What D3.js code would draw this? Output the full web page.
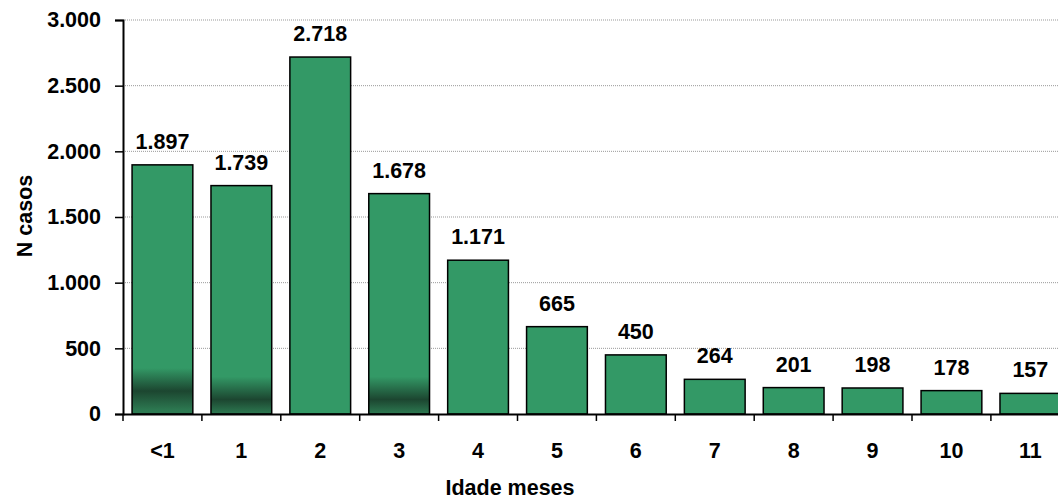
<!DOCTYPE html>
<html>
<head>
<meta charset="utf-8">
<script src="https://cdn.jsdelivr.net/npm/d3@7"></script>
<style>
  body { margin: 0; background: #fff; }
  text { font-family: "Liberation Sans", Arial, sans-serif; font-weight: bold; fill: #000; }
</style>
</head>
<body>
<div class="viz"></div>
<script>
// age in months and number of cases
var categories = ['<1', '1', '2', '3', '4', '5', '6', '7', '8', '9', '10', '11'];
var casos = [1897, 1739, 2718, 1678, 1171, 665, 450, 264, 201, 198, 178, 157];
var yTicks = [0, 500, 1000, 1500, 2000, 2500, 3000];
var xTitle = 'Idade meses';
var yTitle = 'N casos';

var width = 1058, height = 501;
var plotLeft = 123, plotTop = 20, plotBottom = 414;
var step = 78.9;
var fontSize = '21.5px';

var fmt = function (v) {
  return d3.format(',')(v).replace(/,/g, '.');
};

var svg = d3.select('.viz').append('svg')
  .attr('width', width)
  .attr('height', height);

var x = d3.scaleBand()
  .domain(categories)
  .range([plotLeft, plotLeft + step * categories.length])
  .paddingInner(0.23)
  .paddingOuter(0.115);

var y = d3.scaleLinear()
  .domain([0, 3000])
  .range([plotBottom, plotTop]);

// the dark smudges near the base of a few bars in the original
var defs = svg.append('defs');
function shade(id, c) {
  var g = defs.append('linearGradient')
    .attr('id', id)
    .attr('gradientUnits', 'userSpaceOnUse')
    .attr('x1', 0).attr('x2', 0)
    .attr('y1', y(500)).attr('y2', y(0));
  g.append('stop').attr('offset', 0).attr('stop-color', '#339966');
  g.append('stop').attr('offset', c - 0.35).attr('stop-color', '#339966');
  g.append('stop').attr('offset', c).attr('stop-color', '#1c4630');
  g.append('stop').attr('offset', Math.min(1, c + 0.3)).attr('stop-color', '#2d7a52');
  g.append('stop').attr('offset', 1).attr('stop-color', '#2d7a52');
}
shade('shadeA', 0.65);
shade('shadeB', 0.78);
var fills = { '<1': 'url(#shadeA)', '1': 'url(#shadeB)', '3': 'url(#shadeB)' };

// gridlines
svg.append('g')
  .selectAll('line')
  .data(yTicks.slice(1))
  .join('line')
  .attr('x1', plotLeft).attr('x2', width)
  .attr('y1', d => y(d)).attr('y2', d => y(d))
  .attr('stroke', '#999')
  .attr('stroke-width', 1)
  .attr('stroke-dasharray', '1,1');

svg.append('g')
  .selectAll('rect')
  .data(casos)
  .join('rect')
  .attr('x', (d, i) => x(categories[i]))
  .attr('width', x.bandwidth())
  .attr('y', d => y(d))
  .attr('height', d => y(0) - y(d))
  .attr('fill', (d, i) => fills[categories[i]] || '#339966')
  .attr('stroke', '#000')
  .attr('stroke-width', 1.5);

svg.append('g')
  .selectAll('text')
  .data(casos)
  .join('text')
  .attr('x', (d, i) => x(categories[i]) + x.bandwidth() / 2)
  .attr('y', d => y(d) - 16)
  .attr('text-anchor', 'middle')
  .style('font-size', fontSize)
  .text(d => fmt(d));

var yAxis = svg.append('g')
  .attr('transform', 'translate(' + plotLeft + ',0)')
  .call(d3.axisLeft(y).tickValues(yTicks).tickSize(8).tickPadding(14).tickFormat(fmt));
yAxis.selectAll('text').style('font-size', fontSize);

var xAxis = svg.append('g')
  .attr('transform', 'translate(0,' + plotBottom + ')')
  .call(d3.axisBottom(x).tickSize(0).tickPadding(29));
xAxis.selectAll('text').style('font-size', fontSize);

// tick marks between categories
xAxis.selectAll('.sep')
  .data(categories)
  .join('line')
  .attr('class', 'sep')
  .attr('x1', d => x(d) - x.step() * x.paddingInner() / 2)
  .attr('x2', d => x(d) - x.step() * x.paddingInner() / 2)
  .attr('y1', 0).attr('y2', 7)
  .attr('stroke', '#000')
  .attr('stroke-width', 1.5);

svg.selectAll('.domain').attr('stroke', '#000').attr('stroke-width', 2);
svg.selectAll('.tick line').attr('stroke', '#000').attr('stroke-width', 1.5);

svg.append('text')
  .attr('x', 510)
  .attr('y', 495)
  .attr('text-anchor', 'middle')
  .style('font-size', fontSize)
  .text(xTitle);

svg.append('text')
  .attr('transform', 'translate(32,216) rotate(-90)')
  .attr('text-anchor', 'middle')
  .style('font-size', fontSize)
  .text(yTitle);
</script>
</body>
</html>
